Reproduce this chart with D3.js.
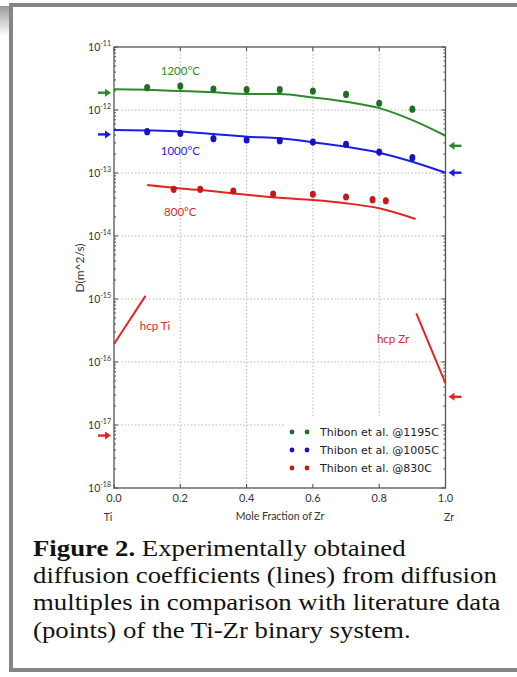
<!DOCTYPE html>
<html>
<head>
<meta charset="utf-8">
<script src="https://cdn.jsdelivr.net/npm/d3@7"></script>
<style>
  body { margin: 0; background: #fff; }
  svg { display: block; }
</style>
</head>
<body>
<div id="chart"></div>
<script>
// literature points (Thibon et al.)
const xThibon = [0.1, 0.2, 0.3, 0.4, 0.5, 0.6, 0.7, 0.8, 0.9];
const d1195 = [2.26e-12, 2.4e-12, 2.15e-12, 2.1e-12, 2.1e-12, 2.0e-12, 1.77e-12, 1.28e-12, 1.03e-12];
const d1005 = [4.53e-13, 4.27e-13, 3.5e-13, 3.34e-13, 3.26e-13, 3.1e-13, 2.86e-13, 2.15e-13, 1.75e-13];
const x830 = [0.18, 0.26, 0.36, 0.48, 0.6, 0.7, 0.78, 0.82];
const d830 = [5.5e-14, 5.5e-14, 5.18e-14, 4.64e-14, 4.6e-14, 4.16e-14, 3.77e-14, 3.63e-14];

// diffusion multiple results (lines)
const xLine = [0, 0.1, 0.2, 0.3, 0.4, 0.5, 0.6, 0.7, 0.8, 0.9, 1.0];
const line1200 = [2.14e-12, 2.09e-12, 2.0e-12, 1.91e-12, 1.8e-12, 1.8e-12, 1.58e-12, 1.35e-12, 1.07e-12, 6.9e-13, 3.9e-13];
const line1000 = [4.82e-13, 4.73e-13, 4.56e-13, 4.16e-13, 3.77e-13, 3.56e-13, 3.07e-13, 2.61e-13, 2.1e-13, 1.51e-13, 1.01e-13];
const x800 = [0.1, 0.2, 0.3, 0.4, 0.5, 0.6, 0.7, 0.8, 0.91];
const line800 = [6.46e-14, 5.69e-14, 5.13e-14, 4.52e-14, 4.03e-14, 3.72e-14, 3.31e-14, 2.75e-14, 1.86e-14];
const xHcpTi = [0, 0.095];
const dHcpTi = [1.93e-16, 1.12e-15];
const xHcpZr = [0.912, 1.0];
const dHcpZr = [5.93e-16, 4.59e-17];

// pure-element reference values (arrows)
const arrowsTi = [1.88e-12, 4.1e-13, 6.8e-18];
const arrowsZr = [2.7e-13, 1.01e-13, 2.8e-17];

const xTicks = [0, 0.2, 0.4, 0.6, 0.8, 1.0];
const yExps = [-18, -17, -16, -15, -14, -13, -12, -11];
const legendLabels = ['Thibon et al. @1195C', 'Thibon et al. @1005C', 'Thibon et al. @830C'];
const curveLabels = ['1200°C', '1000°C', '800°C'];

const W = 517, H = 677;
const plot = { left: 114, right: 445.5, top: 47, bottom: 488 };

const lineCol = ['#2b8a2b', '#1c1ce8', '#e32424'];
const dotCol = ['#1f6f1f', '#1414c4', '#c51a1a'];

const svg = d3.select('#chart').append('svg')
  .attr('width', W).attr('height', H);

// frame + shadow
const defs = svg.append('defs');
const grad = defs.append('linearGradient').attr('id', 'shadow')
  .attr('x1', 0).attr('y1', 0).attr('x2', 0).attr('y2', 1);
grad.append('stop').attr('offset', '0%').attr('stop-color', '#9a9a9a');
grad.append('stop').attr('offset', '100%').attr('stop-color', '#fff');
svg.append('rect').attr('x', 0).attr('y', 6).attr('width', 9).attr('height', 30).attr('fill', 'url(#shadow)');
svg.append('rect').attr('x', 9).attr('y', 3).attr('width', W - 9).attr('height', 4).attr('fill', '#858585');
svg.append('rect').attr('x', 9).attr('y', 3).attr('width', 4).attr('height', 669).attr('fill', '#858585');
svg.append('rect').attr('x', 9).attr('y', 668).attr('width', W - 9).attr('height', 4).attr('fill', '#858585');

const x = d3.scaleLinear().domain([0, 1]).range([plot.left, plot.right]);
const y = d3.scaleLog().domain([1e-18, 1e-11]).range([plot.bottom, plot.top]);

// grid
const grid = svg.append('g').attr('stroke', '#b8b8b8').attr('stroke-width', 1).attr('stroke-dasharray', '1.5,2');
grid.selectAll('line.gx').data(xTicks.slice(1, -1)).enter().append('line')
  .attr('x1', d => x(d)).attr('x2', d => x(d))
  .attr('y1', plot.top).attr('y2', plot.bottom);
grid.selectAll('line.gy').data(yExps.slice(1, -1)).enter().append('line')
  .attr('y1', d => y(Math.pow(10, d))).attr('y2', d => y(Math.pow(10, d)))
  .attr('x1', plot.left).attr('x2', plot.right);

// legend background (covers grid)
svg.append('rect').attr('x', 284).attr('y', 418)
  .attr('width', plot.right - 284).attr('height', plot.bottom - 418).attr('fill', '#fff');

// ticks
const ticks = svg.append('g').attr('stroke', '#444').attr('stroke-width', 1);
xTicks.forEach(t => {
  ticks.append('line').attr('x1', x(t)).attr('x2', x(t)).attr('y1', plot.bottom).attr('y2', plot.bottom - 4);
  ticks.append('line').attr('x1', x(t)).attr('x2', x(t)).attr('y1', plot.top).attr('y2', plot.top + 4);
});
yExps.slice(0, -1).forEach(e => {
  for (let m = 2; m <= 9; m++) {
    const yy = y(m * Math.pow(10, e));
    ticks.append('line').attr('x1', plot.left).attr('x2', plot.left + 2).attr('y1', yy).attr('y2', yy);
    ticks.append('line').attr('x1', plot.right).attr('x2', plot.right - 2).attr('y1', yy).attr('y2', yy);
  }
});
yExps.forEach(e => {
  const yy = y(Math.pow(10, e));
  ticks.append('line').attr('x1', plot.left).attr('x2', plot.left + 4).attr('y1', yy).attr('y2', yy);
  ticks.append('line').attr('x1', plot.right).attr('x2', plot.right - 4).attr('y1', yy).attr('y2', yy);
});

// spines
svg.append('rect').attr('x', plot.left).attr('y', plot.top)
  .attr('width', plot.right - plot.left).attr('height', plot.bottom - plot.top)
  .attr('fill', 'none').attr('stroke', '#555').attr('stroke-width', 1.3);

// tick labels
const font = 'Lato, "Open Sans", sans-serif';
svg.append('g').selectAll('text').data(xTicks).enter().append('text')
  .attr('x', d => x(d)).attr('y', 502)
  .attr('text-anchor', 'middle').attr('font-family', font).attr('font-size', 11).attr('fill', '#333')
  .text(d => d.toFixed(1));
yExps.forEach(e => {
  const t = svg.append('text')
    .attr('x', plot.left - 3).attr('y', y(Math.pow(10, e)) + 3.5)
    .attr('text-anchor', 'end').attr('font-family', font).attr('fill', '#333').attr('font-size', 10.5);
  t.append('tspan').text('10');
  t.append('tspan').attr('font-size', 7).attr('dy', -5).text(String(e));
});

// axis labels
svg.append('text').attr('x', 280).attr('y', 520).attr('text-anchor', 'middle')
  .attr('font-family', font).attr('font-size', 10.5).attr('fill', '#333').text('Mole Fraction of Zr');
svg.append('text').attr('x', 108).attr('y', 521).attr('text-anchor', 'middle')
  .attr('font-family', font).attr('font-size', 10.5).attr('fill', '#333').text('Ti');
svg.append('text').attr('x', 449).attr('y', 521).attr('text-anchor', 'middle')
  .attr('font-family', font).attr('font-size', 10.5).attr('fill', '#333').text('Zr');
svg.append('text').attr('transform', 'translate(84,268) rotate(-90)').attr('text-anchor', 'middle')
  .attr('font-family', font).attr('font-size', 12).attr('fill', '#333').text('D(m^2/s)');

// lines
const line = d3.line().x(d => x(d[0])).y(d => y(d[1])).curve(d3.curveMonotoneX);
const zip = (a, b) => a.map((v, i) => [v, b[i]]);
const series = [
  { pts: zip(xLine, line1200), c: lineCol[0] },
  { pts: zip(xLine, line1000), c: lineCol[1] },
  { pts: zip(x800, line800), c: lineCol[2] },
  { pts: zip(xHcpTi, dHcpTi), c: lineCol[2] },
  { pts: zip(xHcpZr, dHcpZr), c: lineCol[2] }
];
svg.append('g').selectAll('path').data(series).enter().append('path')
  .attr('d', d => line(d.pts)).attr('fill', 'none')
  .attr('stroke', d => d.c).attr('stroke-width', 2);

// points
const pointSets = [zip(xThibon, d1195), zip(xThibon, d1005), zip(x830, d830)];
pointSets.forEach((pts, i) => {
  svg.append('g').selectAll('ellipse').data(pts).enter().append('ellipse')
    .attr('cx', d => x(d[0])).attr('cy', d => y(d[1]))
    .attr('rx', 3).attr('ry', 3.6).attr('fill', dotCol[i]);
});

// curve labels
const labelY = [75, 155, 216];
curveLabels.forEach((t, i) => {
  svg.append('text').attr('x', x(0.2)).attr('y', labelY[i]).attr('text-anchor', 'middle')
    .attr('font-family', font).attr('font-size', 11.5).attr('fill', lineCol[i]).text(t);
});
svg.append('text').attr('x', 155).attr('y', 330).attr('text-anchor', 'middle')
  .attr('font-family', font).attr('font-size', 11.5).attr('fill', lineCol[2]).text('hcp Ti');
svg.append('text').attr('x', 393).attr('y', 343).attr('text-anchor', 'middle')
  .attr('font-family', font).attr('font-size', 11.5).attr('fill', lineCol[2]).text('hcp Zr');

// arrows
function arrow(g, xTip, yy, dir, col) {
  const tail = xTip - dir * 13;
  g.append('line').attr('x1', tail).attr('x2', xTip - dir * 5).attr('y1', yy).attr('y2', yy)
    .attr('stroke', col).attr('stroke-width', 2.4);
  g.append('path')
    .attr('d', `M${xTip},${yy} L${xTip - dir * 6},${yy - 4} L${xTip - dir * 6},${yy + 4} Z`)
    .attr('fill', col);
}
const ag = svg.append('g');
arrowsTi.forEach((v, i) => arrow(ag, plot.left - 3, y(v), 1, lineCol[i]));
arrowsZr.forEach((v, i) => arrow(ag, plot.right + 3, y(v), -1, lineCol[i]));

// legend
const lg = svg.append('g');
legendLabels.forEach((t, i) => {
  const yy = 432 + i * 18;
  lg.append('circle').attr('cx', 292).attr('cy', yy).attr('r', 2.4).attr('fill', dotCol[i]);
  lg.append('circle').attr('cx', 307).attr('cy', yy).attr('r', 2.4).attr('fill', dotCol[i]);
  lg.append('text').attr('x', 320).attr('y', yy + 4)
    .attr('font-family', '"DejaVu Sans", sans-serif').attr('font-size', 11).attr('fill', '#222').text(t);
});

// caption (source text is horizontally stretched)
const cap = svg.append('text')
  .attr('transform', 'translate(33,0) scale(1.19,1)')
  .attr('font-family', '"Liberation Serif", "Times New Roman", serif')
  .attr('font-size', 22.5).attr('fill', '#111');
const capLines = [
  'Experimentally obtained',
  'diffusion coefficients (lines) from diffusion',
  'multiples in comparison with literature data',
  '(points) of the Ti-Zr binary system.'
];
capLines.forEach((l, i) => {
  const ts = cap.append('tspan').attr('x', 0).attr('y', 556 + i * 27.2);
  if (i === 0) {
    ts.append('tspan').attr('font-weight', 'bold').text('Figure 2.');
    ts.append('tspan').text(' ' + l);
  } else {
    ts.text(l);
  }
});
</script>
</body>
</html>
